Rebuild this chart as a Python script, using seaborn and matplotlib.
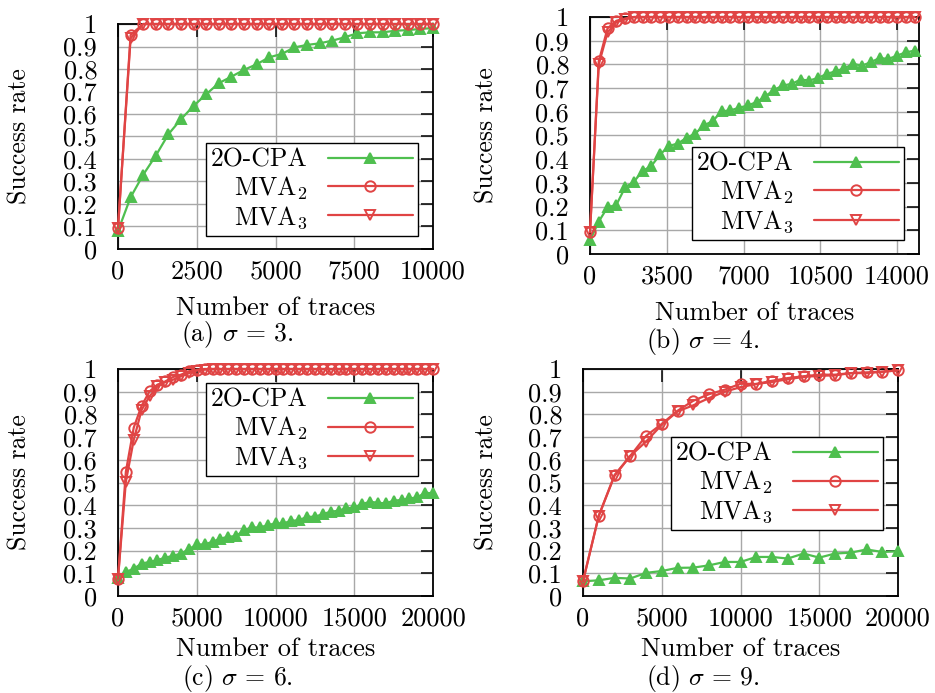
import numpy as np
import pandas as pd
import matplotlib
matplotlib.use("Agg")
import matplotlib.pyplot as plt
import seaborn as sns

sns.set_theme(style="white")
plt.rcParams['font.family'] = ['cmr10', 'DejaVu Serif']
plt.rcParams['mathtext.fontset'] = 'cm'
plt.rcParams['axes.formatter.use_mathtext'] = True

GREEN = '#4fbf4f'
RED = '#e04444'

# ---------------- data ----------------
# panel (a) sigma = 3
xa = list(range(0, 10001, 400))
a_cpa = [0.08, 0.23, 0.33, 0.415, 0.51, 0.577, 0.636, 0.688, 0.737, 0.766, 0.796, 0.821, 0.852,
         0.867, 0.896, 0.907, 0.914, 0.926, 0.941, 0.959, 0.963, 0.963, 0.970, 0.973, 0.978, 0.982]
a_mva2 = [0.093, 0.951] + [1.0] * 24
a_mva3 = [0.093, 0.936] + [1.0] * 24

# panel (b) sigma = 4
xb = list(range(0, 14801, 400))
b_cpa = [0.057, 0.137, 0.197, 0.207, 0.281, 0.305, 0.35, 0.372, 0.42, 0.456, 0.466, 0.49, 0.508,
         0.543, 0.561, 0.602, 0.606, 0.617, 0.627, 0.641, 0.666, 0.693, 0.711, 0.718, 0.736,
         0.732, 0.743, 0.76, 0.771, 0.784, 0.802, 0.795, 0.809, 0.827, 0.823, 0.837, 0.851, 0.858]
b_mva2 = [0.092, 0.813, 0.952, 0.984, 0.994] + [1.0] * 33
b_mva3 = [0.092, 0.80, 0.935, 0.978, 0.99] + [1.0] * 33

# panel (c) sigma = 6
xc = list(range(0, 20001, 500))
c_cpa = [0.08, 0.106, 0.12, 0.143, 0.15, 0.158, 0.169, 0.177, 0.187, 0.206, 0.227, 0.227, 0.239,
         0.253, 0.261, 0.264, 0.29, 0.302, 0.302, 0.312, 0.32, 0.32, 0.331, 0.334, 0.349, 0.349,
         0.361, 0.371, 0.376, 0.386, 0.39, 0.405, 0.415, 0.411, 0.408, 0.42, 0.423, 0.43, 0.434,
         0.455, 0.452]
c_mva2 = [0.077, 0.548, 0.742, 0.838, 0.901, 0.931, 0.945, 0.965, 0.975, 0.99, 0.997] + [1.0] * 30
c_mva3 = [0.077, 0.504, 0.688, 0.82, 0.879, 0.923, 0.943, 0.953, 0.968, 0.982, 0.993, 0.997] + [1.0] * 29

# panel (d) sigma = 9
xd = list(range(0, 20001, 1000))
d_cpa = [0.065, 0.069, 0.08, 0.077, 0.102, 0.11, 0.124, 0.125, 0.135, 0.15, 0.15, 0.172, 0.172,
         0.165, 0.187, 0.169, 0.187, 0.191, 0.205, 0.194, 0.197]
d_mva2 = [0.065, 0.353, 0.533, 0.617, 0.705, 0.758, 0.816, 0.86, 0.889, 0.909, 0.935, 0.934,
          0.948, 0.96, 0.968, 0.975, 0.975, 0.982, 0.985, 0.988, 0.994]
d_mva3 = [0.065, 0.353, 0.529, 0.617, 0.68, 0.754, 0.813, 0.84, 0.872, 0.9, 0.92, 0.934, 0.943,
          0.955, 0.965, 0.97, 0.972, 0.982, 0.982, 0.988, 0.994]

series_labels = ['2O-CPA', r'MVA$_2$', r'MVA$_3$']
y_ticks = [0, 0.1, 0.2, 0.3, 0.4, 0.5, 0.6, 0.7, 0.8, 0.9, 1.0]
y_ticklabels = ['0', '0.1', '0.2', '0.3', '0.4', '0.5', '0.6', '0.7', '0.8', '0.9', '1']

xa_ticks = [0, 2500, 5000, 7500, 10000]
xb_ticks = [0, 3500, 7000, 10500, 14000]
xc_ticks = [0, 5000, 10000, 15000, 20000]
xd_ticks = [0, 5000, 10000, 15000, 20000]
captions = [r'(a) $\sigma\,=\,3$.', r'(b) $\sigma\,=\,4$.', r'(c) $\sigma\,=\,6$.', r'(d) $\sigma\,=\,9$.']

W, H = 935, 693
fig = plt.figure(figsize=(W / 100, H / 100), dpi=100)

def px_axes(l, t, r, b):
    return fig.add_axes([l / W, 1 - b / H, (r - l) / W, (b - t) / H])

panels = [
    dict(box=(118, 24, 433, 249), x=xa, ys=(a_cpa, a_mva2, a_mva3), xlim=10000, xt=xa_ticks,
         leg=('lower right', (0.952, 0.058)), cap=(237, 341), ylab=32, xlab=296),
    dict(box=(590, 17, 919, 254), x=xb, ys=(b_cpa, b_mva2, b_mva3), xlim=15000, xt=xb_ticks,
         leg=('lower right', (0.954, 0.059)), cap=(703, 348), ylab=498, xlab=301),
    dict(box=(118, 369, 433, 596), x=xc, ys=(c_cpa, c_mva2, c_mva3), xlim=20000, xt=xc_ticks,
         leg=('upper right', (0.952, 0.938)), cap=(237, 685), ylab=32, xlab=637),
    dict(box=(583, 369, 898, 596), x=xd, ys=(d_cpa, d_mva2, d_mva3), xlim=20000, xt=xd_ticks,
         leg=('upper right', (0.952, 0.70)), cap=(703, 685), ylab=498, xlab=637),
]

styles = [
    dict(color=GREEN, marker='^', markersize=7, markerfacecolor=GREEN, markeredgecolor=GREEN),
    dict(color=RED, marker='o', markersize=7.5, markerfacecolor='none', markeredgecolor=RED),
    dict(color=RED, marker='v', markersize=7, markerfacecolor='none', markeredgecolor=RED),
]

for i, p in enumerate(panels):
    ax = px_axes(*p['box'])
    for lab, yv, st in zip(series_labels, p['ys'], styles):
        df = pd.DataFrame({'x': p['x'], 'y': yv})
        sns.lineplot(data=df, x='x', y='y', ax=ax, label=lab, linewidth=1.6,
                     markeredgewidth=1.4, errorbar=None, clip_on=False, zorder=3, **st)
    ax.set_xlim(0, p['xlim'])
    ax.set_ylim(0, 1)
    ax.set_xticks(p['xt'])
    ax.set_xticklabels([str(t) for t in p['xt']])
    ax.set_yticks(y_ticks)
    ax.set_yticklabels(y_ticklabels)
    ax.grid(True, color='#a8a8a8', linewidth=1.0)
    ax.set_axisbelow(True)
    for s in ax.spines.values():
        s.set_color('black')
        s.set_linewidth(1.3)
        s.set_visible(True)
    ax.tick_params(direction='in', length=9, width=1.1, color='black', top=True, right=True,
                   labelsize=19, labelcolor='black')
    ax.tick_params(axis='x', pad=8)
    ax.tick_params(axis='y', pad=15)
    ax.set_xlabel('Number of traces', fontsize=19, color='black')
    ax.set_ylabel('Success rate', fontsize=18.5, color='black')
    l, t, r, b = p['box']
    ax.yaxis.set_label_coords((p['ylab'] - l) / (r - l), 0.5)
    ax.xaxis.set_label_coords(0.5, (b - p['xlab']) / (b - t))
    leg = ax.legend(loc=p['leg'][0], bbox_to_anchor=p['leg'][1], markerfirst=False, fancybox=False,
                    edgecolor='black', framealpha=1, handlelength=3.3, fontsize=18.5,
                    borderpad=0.2, labelspacing=0.1, handletextpad=0.8, borderaxespad=0)
    leg.get_frame().set_linewidth(1.0)
    for txt in leg.get_texts():
        txt.set_color('black')
    cx, cy = p['cap']
    fig.text(cx / W, 1 - cy / H, captions[i], ha='center', va='baseline', fontsize=18.5, color='black')

fig.savefig('out.png', dpi=100)
